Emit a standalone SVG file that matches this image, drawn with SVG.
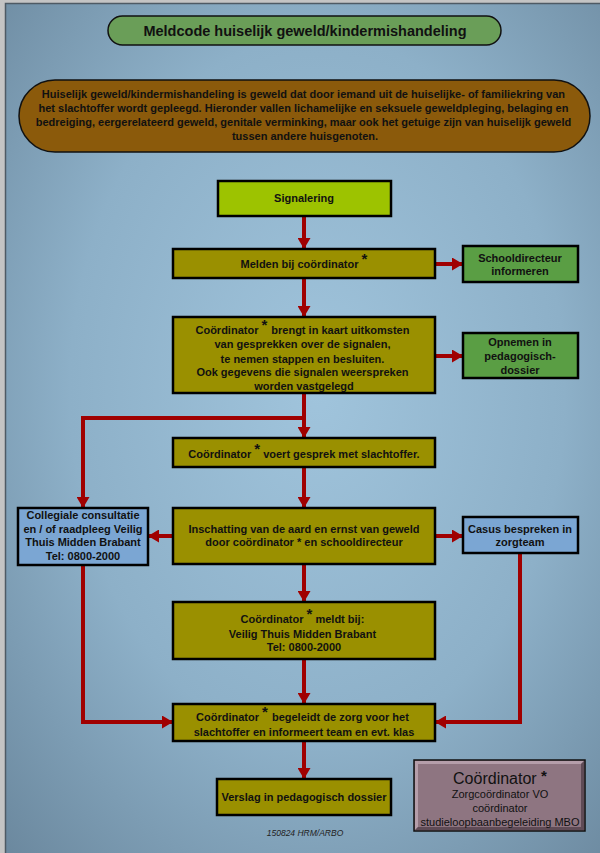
<svg xmlns="http://www.w3.org/2000/svg" width="600" height="853" viewBox="0 0 600 853">
<defs>
<radialGradient id="bg" cx="52%" cy="45%" r="75%">
<stop offset="0" stop-color="#a0c4dc"/>
<stop offset="0.55" stop-color="#8db0c8"/>
<stop offset="1" stop-color="#6b889e"/>
</radialGradient>
<marker id="ah" markerUnits="userSpaceOnUse" markerWidth="11" markerHeight="13" refX="10" refY="6.5" orient="auto">
<path d="M0,0 L11,6.5 L0,13 z" fill="#a00000"/>
</marker>
<style>
.box{stroke:#000;stroke-width:2.5}
.olive{fill:#9a9000}
.t{font-family:"Liberation Sans",Arial,sans-serif;font-weight:bold;font-size:11px;fill:#111;text-anchor:middle}
.st{font-size:15px}
.c{fill:none;stroke:#a00000;stroke-width:4;stroke-linejoin:miter}
.lg{font-family:"Liberation Sans",Arial,sans-serif;fill:#111;text-anchor:middle}
</style>
</defs>
<rect x="0" y="0" width="600" height="853" fill="#c4c4c4"/>
<rect x="5.5" y="3.5" width="600" height="860" fill="url(#bg)" stroke="#4e5a64" stroke-width="1.5"/>

<g id="title">
<rect x="108" y="16" width="393" height="29" rx="14.5" fill="#6a9e58" stroke="#111" stroke-width="1.5"/>
<text class="t" x="305" y="36" style="font-size:14.5px">Meldcode huiselijk geweld/kindermishandeling</text>
</g>

<g id="definitie">
<rect x="19" y="80" width="571" height="72" rx="36" fill="#8b5a0b" stroke="#111" stroke-width="1.5"/>
<text class="t" x="305" style="font-size:11px">
<tspan x="305" y="98">Huiselijk geweld/kindermishandeling is geweld dat door iemand uit de huiselijke- of familiekring van</tspan>
<tspan x="305" y="112">het slachtoffer wordt gepleegd. Hieronder vallen lichamelijke en seksuele geweldpleging, belaging en</tspan>
<tspan x="305" y="126">bedreiging, eergerelateerd geweld, genitale verminking, maar ook het getuige zijn van huiselijk geweld</tspan>
<tspan x="305" y="140">tussen andere huisgenoten.</tspan>
</text>
</g>

<g id="connectors">
<path class="c" d="M304,216 V248" marker-end="url(#ah)"/>
<path class="c" d="M435,264 H462" marker-end="url(#ah)"/>
<path class="c" d="M304,278 V316" marker-end="url(#ah)"/>
<path class="c" d="M435,356 H462" marker-end="url(#ah)"/>
<path class="c" d="M304,393 V437" marker-end="url(#ah)"/>
<path class="c" d="M304,418 H83 V507" marker-end="url(#ah)"/>
<path class="c" d="M304,467 V507" marker-end="url(#ah)"/>
<path class="c" d="M173,536 H149" marker-end="url(#ah)"/>
<path class="c" d="M435,536 H462" marker-end="url(#ah)"/>
<path class="c" d="M304,564 V601" marker-end="url(#ah)"/>
<path class="c" d="M304,659 V703" marker-end="url(#ah)"/>
<path class="c" d="M83,565 V722 H172" marker-end="url(#ah)"/>
<path class="c" d="M520,553 V722 H436" marker-end="url(#ah)"/>
<path class="c" d="M304,741 V778" marker-end="url(#ah)"/>
</g>

<g id="signalering">
<rect class="box" x="218" y="181" width="173" height="35" fill="#9dc300"/>
<text class="t" x="304" y="202">Signalering</text>
</g>

<g id="melden">
<rect class="box olive" x="173" y="249" width="262" height="29"/>
<text class="t" x="304" y="268">Melden bij coördinator <tspan class="st" dy="-4">*</tspan></text>
</g>

<g id="schooldirecteur">
<rect class="box" x="463" y="246" width="115" height="36" fill="#5a9e44"/>
<text class="t"><tspan x="520" y="262">Schooldirecteur</tspan><tspan x="520" y="275">informeren</tspan></text>
</g>

<g id="inkaart">
<rect class="box olive" x="173" y="317" width="262" height="76"/>
<text class="t">
<tspan x="304" y="334">Coördinator <tspan class="st" dy="-4">*</tspan><tspan dx="4" dy="4">brengt in kaart uitkomsten</tspan></tspan>
<tspan x="304" y="348">van gesprekken over de signalen,</tspan>
<tspan x="304" y="363">te nemen stappen en besluiten.</tspan>
<tspan x="304" y="376">Ook gegevens die signalen weerspreken</tspan>
<tspan x="304" y="390">worden vastgelegd</tspan>
</text>
</g>

<g id="opnemen">
<rect class="box" x="463" y="333" width="115" height="45" fill="#5a9e44"/>
<text class="t"><tspan x="520" y="346">Opnemen in</tspan><tspan x="520" y="360">pedagogisch-</tspan><tspan x="520" y="374">dossier</tspan></text>
</g>

<g id="gesprek">
<rect class="box olive" x="173" y="438" width="262" height="29"/>
<text class="t" x="304" y="458">Coördinator <tspan class="st" dy="-4">*</tspan><tspan dx="3" dy="4">voert gesprek met slachtoffer.</tspan></text>
</g>

<g id="inschatting">
<rect class="box olive" x="173" y="508" width="262" height="56"/>
<text class="t"><tspan x="304" y="533">Inschatting van de aard en ernst van geweld</tspan><tspan x="304" y="546">door coördinator * en schooldirecteur</tspan></text>
</g>

<g id="collegiale">
<rect class="box" x="18" y="508" width="130" height="57" fill="#7ba6d3"/>
<text class="t"><tspan x="83" y="519">Collegiale consultatie</tspan><tspan x="83" y="533">en / of raadpleeg Veilig</tspan><tspan x="83" y="546">Thuis Midden Brabant</tspan><tspan x="83" y="560">Tel: 0800-2000</tspan></text>
</g>

<g id="casus">
<rect class="box" x="463" y="517" width="115" height="36" fill="#7ba6d3"/>
<text class="t"><tspan x="520" y="533">Casus bespreken in</tspan><tspan x="520" y="546">zorgteam</tspan></text>
</g>

<g id="meldt">
<rect class="box olive" x="173" y="602" width="262" height="57"/>
<text class="t">
<tspan x="304" y="623">Coördinator <tspan class="st" dy="-4">*</tspan><tspan dx="3" dy="4">meldt  bij:</tspan></tspan>
<tspan x="304" y="638">Veilig Thuis Midden Brabant</tspan>
<tspan x="304" y="651">Tel: 0800-2000</tspan>
</text>
</g>

<g id="begeleidt">
<rect class="box olive" x="173" y="704" width="262" height="37"/>
<text class="t">
<tspan x="304" y="721">Coördinator <tspan class="st" dy="-4">*</tspan><tspan dx="4" dy="4">begeleidt de zorg voor het</tspan></tspan>
<tspan x="304" y="736">slachtoffer en informeert team en evt. klas</tspan>
</text>
</g>

<g id="verslag">
<rect class="box olive" x="217" y="779" width="174" height="36"/>
<text class="t" x="304" y="801">Verslag in pedagogisch dossier</text>
</g>

<g id="legenda">
<rect x="414" y="760" width="171" height="71" fill="#8e7581" stroke="#111" stroke-width="1.5"/>
<path d="M415,761 H584 L581,764 H418 V827 L415,830 z" fill="#b59eaa"/>
<path d="M584,761 V830 H415 L418,827 H581 V764 z" fill="#5f4b56"/>
<text class="lg" x="500" y="784" style="font-size:16px">Coördinator <tspan style="font-weight:bold;font-size:15px" dy="-3">*</tspan></text>
<text class="lg" x="500" y="798" style="font-size:11px">Zorgcoördinator VO</text>
<text class="lg" x="500" y="812" style="font-size:11px">coördinator</text>
<text class="lg" x="500" y="826" style="font-size:11px">studieloopbaanbegeleiding MBO</text>
</g>

<text x="305" y="836" style="font-family:'Liberation Sans',Arial,sans-serif;font-style:italic;font-size:8.5px;fill:#222;text-anchor:middle">150824 HRM/ARBO</text>
</svg>
